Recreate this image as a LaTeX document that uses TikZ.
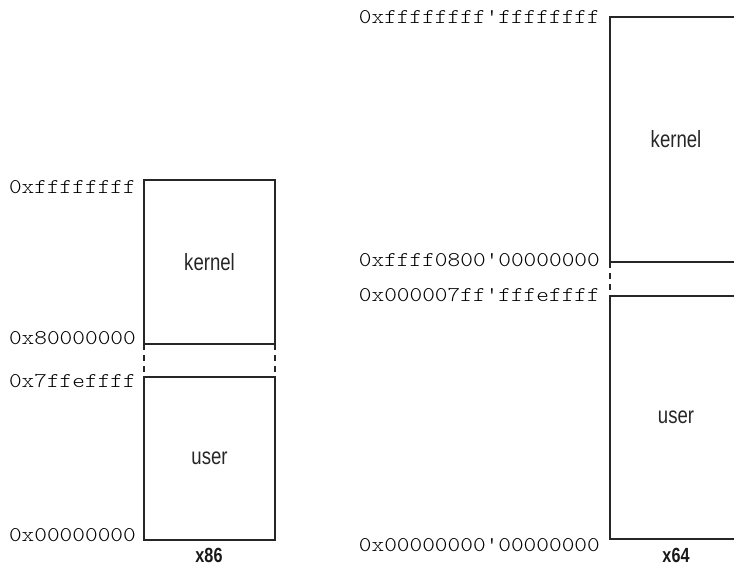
\documentclass[tikz,border=0pt]{standalone}
\usepackage{fontspec}
\newfontfamily\addrfont[FakeStretch=1.15]{lmmonolt10-regular.otf}
\newfontfamily\condfont[FakeStretch=0.79]{Liberation Sans}
\begin{document}
\begin{tikzpicture}[x=1pt,y=-1pt,
  box/.style={draw=black!85, line width=1.1pt, rectangle, inner sep=0pt, outer sep=0pt,
    font=\condfont\fontsize{23.5}{23.5}\selectfont, text=black!85, anchor=north west},
  gap/.style={draw=black!85, line width=1.1pt, dash pattern=on 6pt off 5pt},
  addr/.style={font=\addrfont\fontsize{21}{21}\selectfont, anchor=east, inner sep=0pt,
    text height=12pt, text depth=0pt, text=black},
  arch/.style={font=\condfont\bfseries\fontsize{20.5}{20.5}\selectfont, inner sep=0pt, text=black!90}]
\useasboundingbox (0,0) rectangle (734,568);
\clip (0,0) rectangle (734,568);
% x86
\node[box, minimum width=131pt, minimum height=164pt] (k86) at (144,180) {kernel};
\node[box, minimum width=131pt, minimum height=163pt] (u86) at (144,377) {user};
\draw[gap] (k86.south west) -- (u86.north west);
\draw[gap] (k86.south east) -- (u86.north east);
\node[addr] (a1) at (136,187) {0xffffffff};
\node[addr] (a2) at (136,338) {0x80000000};
\node[addr] (a3) at (136,381) {0x7ffeffff};
\node[addr] (a4) at (136,535) {0x00000000};
\node[arch] (x86) at (209,555.5) {x86};
% x64
\node[box, minimum width=132pt, minimum height=245pt] (k64) at (610,17) {kernel};
\node[box, minimum width=132pt, minimum height=243pt] (u64) at (610,296) {user};
\draw[gap] (k64.south west) -- (u64.north west);
\node[addr] (b1) at (600,17) {0xffffffff'ffffffff};
\node[addr] (b2) at (600,260) {0xffff0800'00000000};
\node[addr] (b3) at (600,295) {0x000007ff'fffeffff};
\node[addr] (b4) at (600,545) {0x00000000'00000000};
\node[arch] (x64) at (676,555.5) {x64};
\end{tikzpicture}
\end{document}
